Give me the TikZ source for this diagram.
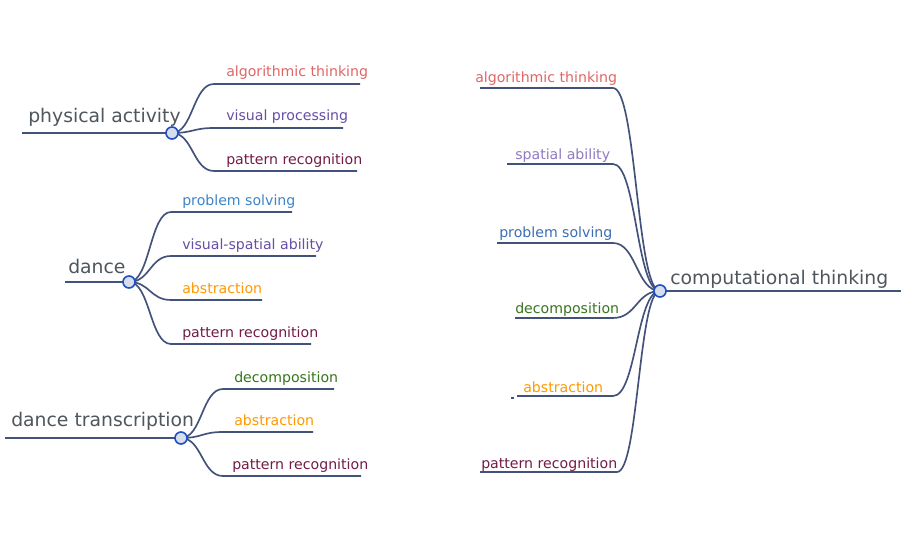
\documentclass[tikz,border=0pt]{standalone}
\usepackage{fontspec}
\setmainfont{DejaVu Sans}
\usetikzlibrary{calc}
\definecolor{linkc}{HTML}{43527A}
\definecolor{rootc}{HTML}{4F565C}
\definecolor{dotfill}{HTML}{D6DEEE}
\definecolor{dotline}{HTML}{1F4FC0}
\definecolor{cAlg}{HTML}{E06666}
\definecolor{cVis}{HTML}{674EA7}
\definecolor{cPat}{HTML}{741B47}
\definecolor{cProb}{HTML}{3D85C6}
\definecolor{cProbR}{HTML}{3D6EB4}
\definecolor{cAbs}{HTML}{FF9900}
\definecolor{cDec}{HTML}{38761D}
\definecolor{cSpa}{HTML}{8E7CC3}
\tikzset{
  link/.style={draw=linkc, line width=1.25pt},
  leaf/.style={inner sep=0pt, anchor=base west, font=\fontsize{10.6}{12}\selectfont},
  roottext/.style={inner sep=0pt, anchor=base west, text=rootc, font=\fontsize{14.1}{16}\selectfont},
  dot/.style={circle, draw=dotline, fill=dotfill, line width=1.2pt, minimum size=9pt, inner sep=0pt},
}
\newcommand{\linkto}[3]{% parent, child start, child end
  \path ($(#1)!0.5!(#2)$) coordinate (mid);
  \draw[link] (#1) .. controls (mid |- #1) and (mid |- #2) .. (#2) -- (#3);
}
\begin{document}
\begin{tikzpicture}[x=0.75pt,y=-0.75pt]
\useasboundingbox (0,0) rectangle (908,559);
\fill[white] (0,0) rectangle (908,559);

% ---------- tree 1: physical activity ----------
\coordinate (p0) at (22,133);
\coordinate (pc) at (172,133);
\node[roottext] (pt) at (28,122.5) {physical activity};
\coordinate (p1s) at (214,84);  \coordinate (p1e) at (360,84);
\coordinate (p2s) at (214,128); \coordinate (p2e) at (343,128);
\coordinate (p3s) at (214,171); \coordinate (p3e) at (357,171);
\node[leaf, text=cAlg] (p1) at (226,77) {algorithmic thinking};
\node[leaf, text=cVis] (p2) at (226,121) {visual processing};
\node[leaf, text=cPat] (p3) at (226,164.5) {pattern recognition};
\draw[link] (p0) -- (pc);
\linkto{pc}{p1s}{p1e}
\linkto{pc}{p2s}{p2e}
\linkto{pc}{p3s}{p3e}
\node[dot] (pd) at (pc) {};

% ---------- tree 2: dance ----------
\coordinate (d0) at (65,282);
\coordinate (dc) at (129,282);
\node[roottext] (dt) at (68,273.5) {dance};
\coordinate (d1s) at (171,212); \coordinate (d1e) at (292,212);
\coordinate (d2s) at (171,256); \coordinate (d2e) at (316,256);
\coordinate (d3s) at (171,300); \coordinate (d3e) at (262,300);
\coordinate (d4s) at (171,344); \coordinate (d4e) at (311,344);
\node[leaf, text=cProb] (d1) at (182,205.5) {problem solving};
\node[leaf, text=cVis] (d2) at (182,249.5) {visual-spatial ability};
\node[leaf, text=cAbs] (d3) at (182,293.5) {abstraction};
\node[leaf, text=cPat] (d4) at (182,337.5) {pattern recognition};
\draw[link] (d0) -- (dc);
\linkto{dc}{d1s}{d1e}
\linkto{dc}{d2s}{d2e}
\linkto{dc}{d3s}{d3e}
\linkto{dc}{d4s}{d4e}
\node[dot] (dd) at (dc) {};

% ---------- tree 3: dance transcription ----------
\coordinate (t0) at (5,438);
\coordinate (tc) at (181,438);
\node[roottext] (tt) at (11,427) {dance transcription};
\coordinate (t1s) at (223,389); \coordinate (t1e) at (334,389);
\coordinate (t2s) at (223,432); \coordinate (t2e) at (313,432);
\coordinate (t3s) at (223,476); \coordinate (t3e) at (361,476);
\node[leaf, text=cDec] (t1) at (234,382.5) {decomposition};
\node[leaf, text=cAbs] (t2) at (234,426) {abstraction};
\node[leaf, text=cPat] (t3) at (232,469.5) {pattern recognition};
\draw[link] (t0) -- (tc);
\linkto{tc}{t1s}{t1e}
\linkto{tc}{t2s}{t2e}
\linkto{tc}{t3s}{t3e}
\node[dot] (td) at (tc) {};

% ---------- right tree: computational thinking ----------
\coordinate (cc) at (660,291);
\coordinate (c0) at (901,291);
\node[roottext] (ct) at (670,285) {computational thinking};
\coordinate (c1s) at (613,88);  \coordinate (c1e) at (480,88);
\coordinate (c2s) at (613,164); \coordinate (c2e) at (507,164);
\coordinate (c3s) at (613,243); \coordinate (c3e) at (497,243);
\coordinate (c4s) at (613,318); \coordinate (c4e) at (515,318);
\coordinate (c5s) at (613,396); \coordinate (c5e) at (517,396);
\coordinate (c6s) at (617,472); \coordinate (c6e) at (480,472);
\node[leaf, text=cAlg] (c1) at (475,83) {algorithmic thinking};
\node[leaf, text=cSpa] (c2) at (515,160) {spatial ability};
\node[leaf, text=cProbR] (c3) at (499,238) {problem solving};
\node[leaf, text=cDec] (c4) at (515,313.5) {decomposition};
\node[leaf, text=cAbs] (c5) at (523,392.5) {abstraction};
\node[leaf, text=cPat] (c6) at (481,469) {pattern recognition};
\draw[link] (cc) -- (c0);
\linkto{cc}{c1s}{c1e}
\linkto{cc}{c2s}{c2e}
\linkto{cc}{c3s}{c3e}
\linkto{cc}{c4s}{c4e}
\linkto{cc}{c5s}{c5e}
\linkto{cc}{c6s}{c6e}
\coordinate (cx1) at (511,398); \coordinate (cx2) at (514,398);
\draw[link] (cx1) -- (cx2);
\node[dot] (cd) at (cc) {};
\end{tikzpicture}
\end{document}
